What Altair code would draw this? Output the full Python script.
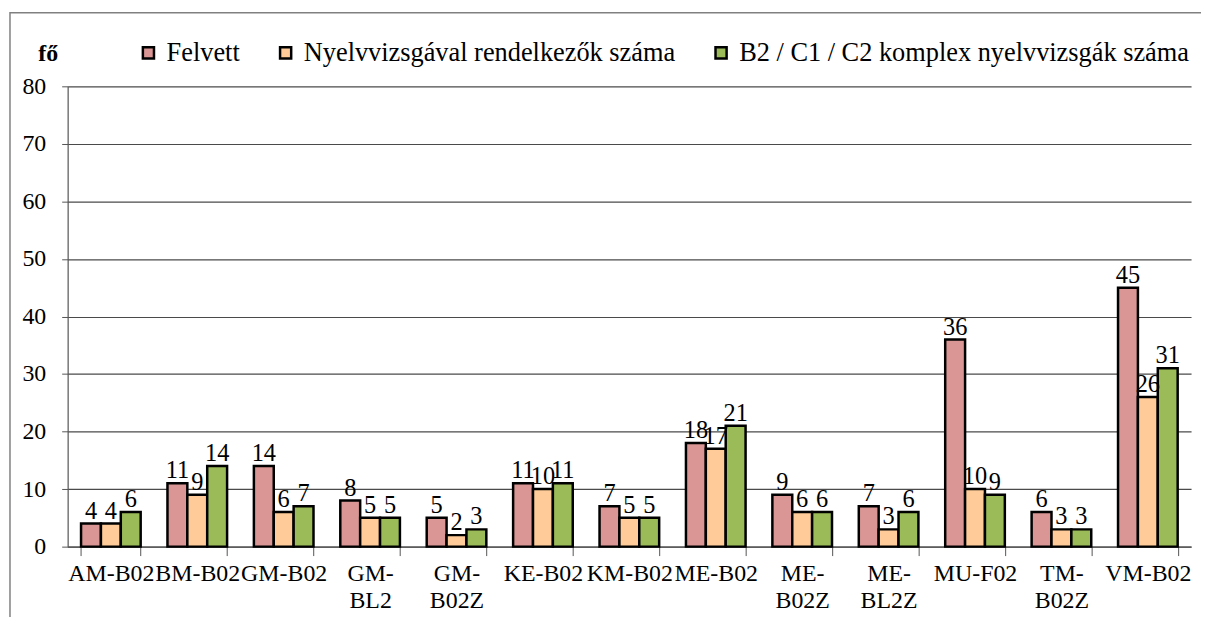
import altair as alt
import pandas as pd

categories = ["AM-B02", "BM-B02", "GM-B02", "GM-\nBL2", "GM-\nB02Z", "KE-B02", "KM-B02",
              "ME-B02", "ME-\nB02Z", "ME-\nBL2Z", "MU-F02", "TM-\nB02Z", "VM-B02"]
series = ["Felvett", "Nyelvvizsgával rendelkezők száma", "B2 / C1 / C2 komplex nyelvvizsgák száma"]
felvett = [4, 11, 14, 8, 5, 11, 7, 18, 9, 7, 36, 6, 45]
nyelvvizsga = [4, 9, 6, 5, 2, 10, 5, 17, 6, 3, 10, 3, 26]
komplex = [6, 14, 7, 5, 3, 11, 5, 21, 6, 6, 9, 3, 31]
colors = ["#D99694", "#FFCC99", "#9BBB59"]

rows = []
for i, c in enumerate(categories):
    for s, vals in zip(series, [felvett, nyelvvizsga, komplex]):
        rows.append({"kat": c, "sorozat": s, "ertek": vals[i]})
df = pd.DataFrame(rows)

FONT = "'Liberation Serif', 'Times New Roman', 'DejaVu Serif', serif"
AX = "#555555"

x = alt.X("kat:N", sort=categories, title=None,
          scale=alt.Scale(paddingInner=0.31, paddingOuter=0.155),
          axis=alt.Axis(labelExpr="datum.value ? split(datum.value, '\\n') : ''", labelAngle=0,
                        labelFontSize=24, labelFont=FONT, labelColor="black",
                        labelPadding=6, labelLineHeight=27, tickBand="extent",
                        tickSize=9, tickColor=AX, domainColor=AX, domainWidth=1.2,
                        labelBaseline="top", grid=False))
xo = alt.XOffset("sorozat:N", sort=series)
y = alt.Y("ertek:Q", scale=alt.Scale(domain=[0, 80]),
          axis=alt.Axis(values=list(range(0, 81, 10)), title="fő", titleAngle=0,
                        titleX=-20, titleY=-33, titleAlign="center", titleBaseline="middle",
                        titleFont=FONT, titleFontSize=24, titleFontWeight="bold", titleColor="black",
                        labelFontSize=24, labelFont=FONT, labelColor="black", labelPadding=16,
                        tickSize=6, tickColor=AX, domainColor=AX, domainWidth=1.2,
                        gridColor="#4a4a4a", gridWidth=1.2))

frame_df = pd.DataFrame({"k": ["frame"]})
frame = alt.Chart(frame_df).mark_rect(fill="white", fillOpacity=0, stroke="#808080", strokeWidth=1.5).encode(
    x=alt.value(-58), x2=alt.value(1180), y=alt.value(-74), y2=alt.value(620))

bars = alt.Chart(df).mark_bar(stroke="black", strokeWidth=2.5).encode(
    x=x, xOffset=xo, y=y,
    color=alt.Color("sorozat:N", sort=series,
                    scale=alt.Scale(domain=series, range=colors),
                    legend=alt.Legend(title=None, orient="none", direction="horizontal",
                                      legendX=68, legendY=-47, symbolType="square",
                                      symbolSize=125, symbolStrokeColor="black",
                                      symbolStrokeWidth=2.5, symbolOpacity=1,
                                      labelFont=FONT, labelFontSize=26.5, labelColor="black",
                                      labelOffset=5, columnPadding=32, labelLimit=700)),
)

labels = alt.Chart(df).mark_text(font=FONT, fontSize=24.5, color="black", baseline="bottom", dy=0).encode(
    x=x, xOffset=xo, y="ertek:Q", text="ertek:Q")

chart = (frame + bars + labels).properties(
    width=1130, height=463,
    autosize=alt.AutoSizeParams(type="none"),
    padding={"left": 60, "top": 77, "right": 10, "bottom": 70},
).configure_view(stroke=None).configure_scale(offsetBandPaddingInner=0)

chart.save("out.html", embed_options={"renderer": "svg", "actions": False})
